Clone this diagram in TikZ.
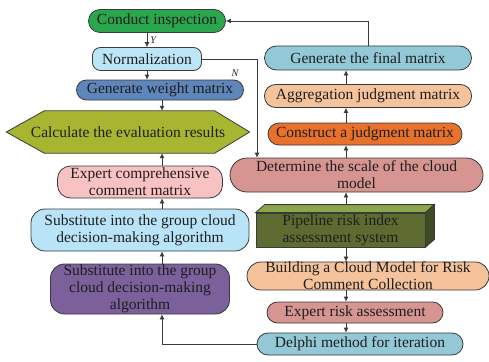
\documentclass[tikz,border=0pt]{standalone}
\usepackage{fontspec}
\setmainfont{Liberation Serif}
\usetikzlibrary{arrows.meta,positioning}
\definecolor{ink}{HTML}{1E1E1E}
\definecolor{edge}{HTML}{3A3A3A}
\definecolor{inspc}{HTML}{2AA64C}
\definecolor{normc}{HTML}{BDE5F8}
\definecolor{weightc}{HTML}{5E86BA}
\definecolor{hexc}{HTML}{A8B531}
\definecolor{pinkc}{HTML}{F8C1C2}
\definecolor{skyc}{HTML}{B9E3F7}
\definecolor{purplec}{HTML}{7B609C}
\definecolor{tealc}{HTML}{93C9D6}
\definecolor{peachc}{HTML}{F5C39B}
\definecolor{orangec}{HTML}{E8722B}
\definecolor{rosec}{HTML}{D69591}
\definecolor{olfront}{HTML}{5E6B30}
\definecolor{oltop}{HTML}{8CA64A}
\definecolor{olside}{HTML}{3E4A25}
\tikzset{
  box/.style={draw=edge,line width=0.8pt,align=center,text=ink,inner sep=0pt,font=\fontsize{15.5}{17}\selectfont},
  pill/.style={box,rounded corners=#1},
  pill/.default=11pt,
  arr/.style={-{Latex[length=5pt,width=5pt]},draw=edge,line width=0.8pt},
  lab/.style={font=\itshape\fontsize{10}{12}\selectfont,text=ink,inner sep=1pt},
}
\begin{document}
\begin{tikzpicture}[x=1pt,y=-1pt]
  \fill[white] (0,0) rectangle (489,361);
  \useasboundingbox (0,0) rectangle (489,361);
  \coordinate (lc) at (162,0);
  \coordinate (rc) at (346,0);
  \coordinate (nx) at (257,0);
  % left column
  \node[pill=11.5pt,fill=inspc,minimum width=137pt,minimum height=23pt] (insp) at (157,21) {Conduct inspection};
  \node[pill=8pt,fill=normc,minimum width=109pt,minimum height=23pt] (norm) at (147,59) {Normalization};
  \node[pill=10pt,fill=weightc,minimum width=167pt,minimum height=20pt] (weight) at (160,90) {Generate weight matrix};
  \node[minimum width=243pt,minimum height=42pt,inner sep=0pt] (hex) at (128,132) {};
  \draw[fill=hexc,draw=edge,line width=0.8pt] (hex.west) -- ([xshift=38pt]hex.north west) -- ([xshift=-35pt]hex.north east) -- (hex.east) -- ([xshift=-35pt]hex.south east) -- ([xshift=38pt]hex.south west) -- cycle;
  \node[box,draw=none,text=ink] at (hex.center) {Calculate the evaluation results};
  \node[pill=13pt,fill=pinkc,minimum width=165pt,minimum height=32pt] (expert) at (140,182) {Expert comprehensive\\comment matrix};
  \node[pill=14pt,fill=skyc,minimum width=218pt,minimum height=42pt] (subst) at (140,230) {Substitute into the group cloud\\decision-making algorithm};
  \node[pill=14pt,fill=purplec,minimum width=179pt,minimum height=50pt] (substp) at (140,289) {Substitute into the group\\cloud decision-making\\algorithm};
  % right column
  \node[pill=12pt,fill=tealc,minimum width=207pt,minimum height=24pt] (final) at (368,58) {Generate the final matrix};
  \node[pill,fill=peachc,minimum width=207pt,minimum height=23pt] (aggr) at (368,96) {Aggregation judgment matrix};
  \node[pill,fill=orangec,minimum width=194pt,minimum height=22pt] (constr) at (365,134) {Construct a judgment matrix};
  \node[pill=17pt,fill=rosec,minimum width=253pt,minimum height=34pt] (det) at (356.5,175) {Determine the scale of the cloud\\model};
  \node[box,fill=olfront,minimum width=169pt,minimum height=34pt] (pipe) at (340.5,230) {Pipeline risk index\\assessment system};
  \draw[fill=oltop,draw=edge,line width=0.8pt] (pipe.north west) -- ++(9,-8) -- ([shift={(9pt,8pt)}]pipe.north east) -- (pipe.north east) -- cycle;
  \draw[fill=olside,draw=edge,line width=0.8pt] (pipe.north east) -- ++(9,-8) -- ([shift={(9pt,8pt)}]pipe.south east) -- (pipe.south east) -- cycle;
  \node[pill=14pt,fill=peachc,minimum width=242pt,minimum height=28pt] (build) at (368,276) {Building a Cloud Model for Risk\\Comment Collection};
  \node[pill=10.5pt,fill=rosec,minimum width=176pt,minimum height=21pt] (risk) at (355,312.5) {Expert risk assessment};
  \node[pill,fill=tealc,minimum width=206pt,minimum height=22pt] (delphi) at (360,344) {Delphi method for iteration};
  % connectors
  \draw[arr] (insp.south -| norm.north) -- node[lab,right=2pt]{Y} (norm.north);
  \draw[arr] (norm.south) -- (norm.south |- weight.north);
  \draw[arr] (weight.south -| lc) -- (hex.north -| lc);
  \draw[arr] (expert.north -| lc) -- (hex.south -| lc);
  \draw[arr] (subst.north -| lc) -- (expert.south -| lc);
  \draw[arr] (substp.north -| lc) -- (subst.south -| lc);
  \draw[arr] (delphi.west) -| (lc |- substp.south);
  \draw[arr] (norm.east) -| (nx |- det.north);
  \node[lab] at (235,73) {N};
  \draw[arr] ([yshift=8pt]pipe.north -| rc) -- (det.south -| rc);
  \draw[arr] (det.north -| rc) -- (constr.south -| rc);
  \draw[arr] (constr.north -| rc) -- (aggr.south -| rc);
  \draw[arr] (aggr.north -| rc) -- (final.south -| rc);
  \draw[arr] (final.north) |- (insp.east);
  \draw[arr] (pipe.south -| rc) -- (build.north -| rc);
  \draw[arr] (build.south -| rc) -- (risk.north -| rc);
  \draw[arr] (risk.south -| rc) -- (delphi.north -| rc);
\end{tikzpicture}
\end{document}
